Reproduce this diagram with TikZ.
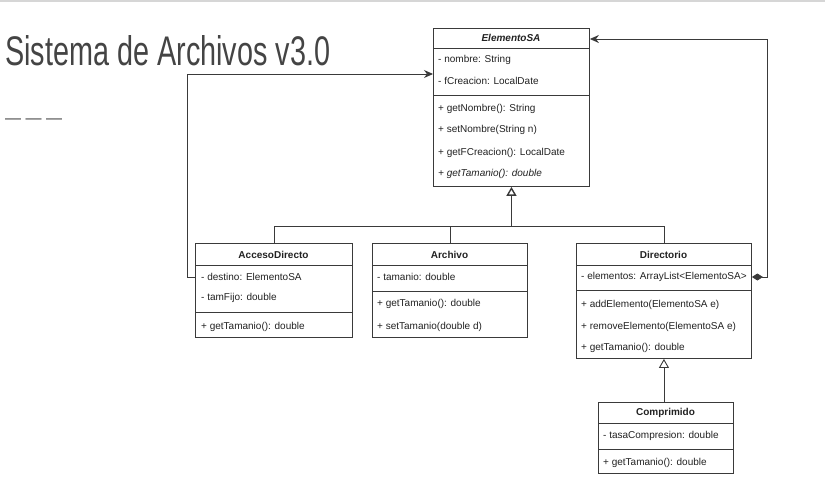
\documentclass[tikz,border=0pt]{standalone}
\usepackage{fontspec}
\setmainfont{Liberation Sans}
\usepackage{tikz}
\usetikzlibrary{arrows.meta}

\definecolor{umlline}{HTML}{3A3A3A}
\definecolor{umltext}{HTML}{222222}
\definecolor{titlegrey}{HTML}{444444}
\definecolor{rulegrey}{HTML}{D6D6D6}

\begin{document}
\begin{tikzpicture}[
                x=1pt, y=-1pt, % one unit per pixel, y downwards
                classbox/.style={draw=umlline, fill=white, line width=0.9pt, anchor=north west, inner sep=0pt}, % class frame
                classname/.style={font=\fontsize{10}{12}\selectfont\bfseries, text=umltext, inner sep=0pt}, % class header
                member/.style={anchor=west, font=\fontsize{10}{12}\selectfont, text=umltext, inner sep=0pt}, % attribute or method
                sepline/.style={draw=umlline, line width=0.9pt}, % compartment line
                link/.style={draw=umlline, line width=0.9pt}, % connectors
                inherit/.style={link, -{Triangle[open, length=9pt, width=10pt]}}, % generalisation
                assoc/.style={link, -{Stealth[length=9pt, width=8pt]}}, % navigable association
                compo/.style={link, {Diamond[length=11pt, width=7pt]}-{Stealth[length=9pt, width=8pt]}} % composition
                ]
                \useasboundingbox (0,0) rectangle (825,484);
                \fill[rulegrey] (0,0) rectangle (825,2);

                % title and rule
                \node[anchor=base west, inner sep=0pt, text=titlegrey] (title) at (5,66)
                   {\resizebox{325pt}{30pt}{Sistema de Archivos v3.0}};
                \node[anchor=west, inner sep=0pt, text=titlegrey, font=\fontsize{16}{16}\selectfont] (rule) at (5,121) {— — —};

                % ElementoSA
                \node[classbox, minimum width=156pt, minimum height=158pt] (elemento) at (433,28) {};
                \node[classname, font=\fontsize{10}{12}\selectfont\bfseries\itshape] (elementoname) at (511,38) {ElementoSA};
                \draw[sepline] (433,48) -- (589,48);
                \draw[sepline] (433,95) -- (589,95);
                \node[member] (nombre) at (438,60) {- nombre: String};
                \node[member] (fcreacion) at (438,81) {- fCreacion: LocalDate};
                \node[member] (getnombre) at (438,109) {+ getNombre(): String};
                \node[member] (setnombre) at (438,130) {+ setNombre(String n)};
                \node[member] (getfcreacion) at (438,153) {+ getFCreacion(): LocalDate};
                \node[member, font=\fontsize{10}{12}\selectfont\itshape] (gettamanio) at (438,174) {+ getTamanio(): double};

                % AccesoDirecto
                \node[classbox, minimum width=157pt, minimum height=94pt] (acceso) at (195,243) {};
                \node[classname] (accesoname) at (273.5,255) {AccesoDirecto};
                \draw[sepline] (195,265) -- (352,265);
                \draw[sepline] (195,312) -- (352,312);
                \node[member] (destino) at (201,277) {- destino: ElementoSA};
                \node[member] (tamfijo) at (201,298) {- tamFijo: double};
                \node[member] (accesotam) at (201,327) {+ getTamanio(): double};

                % Archivo
                \node[classbox, minimum width=155pt, minimum height=94pt] (archivo) at (372,243) {};
                \node[classname] (archivoname) at (449.5,255) {Archivo};
                \draw[sepline] (372,265) -- (527,265);
                \draw[sepline] (372,291) -- (527,291);
                \node[member] (tamanio) at (377,277) {- tamanio: double};
                \node[member] (archivotam) at (377,304) {+ getTamanio(): double};
                \node[member] (settamanio) at (377,327) {+ setTamanio(double d)};

                % Directorio
                \node[classbox, minimum width=175pt, minimum height=115pt] (directorio) at (576,243) {};
                \node[classname] (directorioname) at (663.5,255) {Directorio};
                \draw[sepline] (576,265) -- (751,265);
                \draw[sepline] (576,290) -- (751,290);
                \node[member] (elementos) at (581,277) {- elementos: ArrayList<ElementoSA>};
                \node[member] (addelemento) at (581,305) {+ addElemento(ElementoSA e)};
                \node[member] (removeelemento) at (581,327) {+ removeElemento(ElementoSA e)};
                \node[member] (directoriotam) at (581,348) {+ getTamanio(): double};

                % Comprimido
                \node[classbox, minimum width=135pt, minimum height=71pt] (comprimido) at (598,402) {};
                \node[classname] (comprimidoname) at (665.5,413) {Comprimido};
                \draw[sepline] (598,423) -- (733,423);
                \draw[sepline] (598,449) -- (733,449);
                \node[member] (tasa) at (603,436) {- tasaCompresion: double};
                \node[member] (comprimidotam) at (603,463) {+ getTamanio(): double};

                % generalisation
                \coordinate (joint) at (elemento.south |- 0,226);
                \draw[link] (acceso.north) |- (joint);
                \draw[link] (archivo.north) |- (joint);
                \draw[link] (directorio.north) |- (joint);
                \draw[inherit, line width=1.4pt] (joint) -- (elemento.south);
                \draw[inherit] (directorio.south |- comprimido.north) -- (directorio.south);

                % associations
                \draw[assoc] (acceso.west |- destino) -- ++(-8,0) |- (elemento.west |- 0,74);
                \draw[compo] (directorio.east |- elementos) -- ++(16,0) |- (elemento.east |- 0,39);
            \end{tikzpicture}
\end{document}
